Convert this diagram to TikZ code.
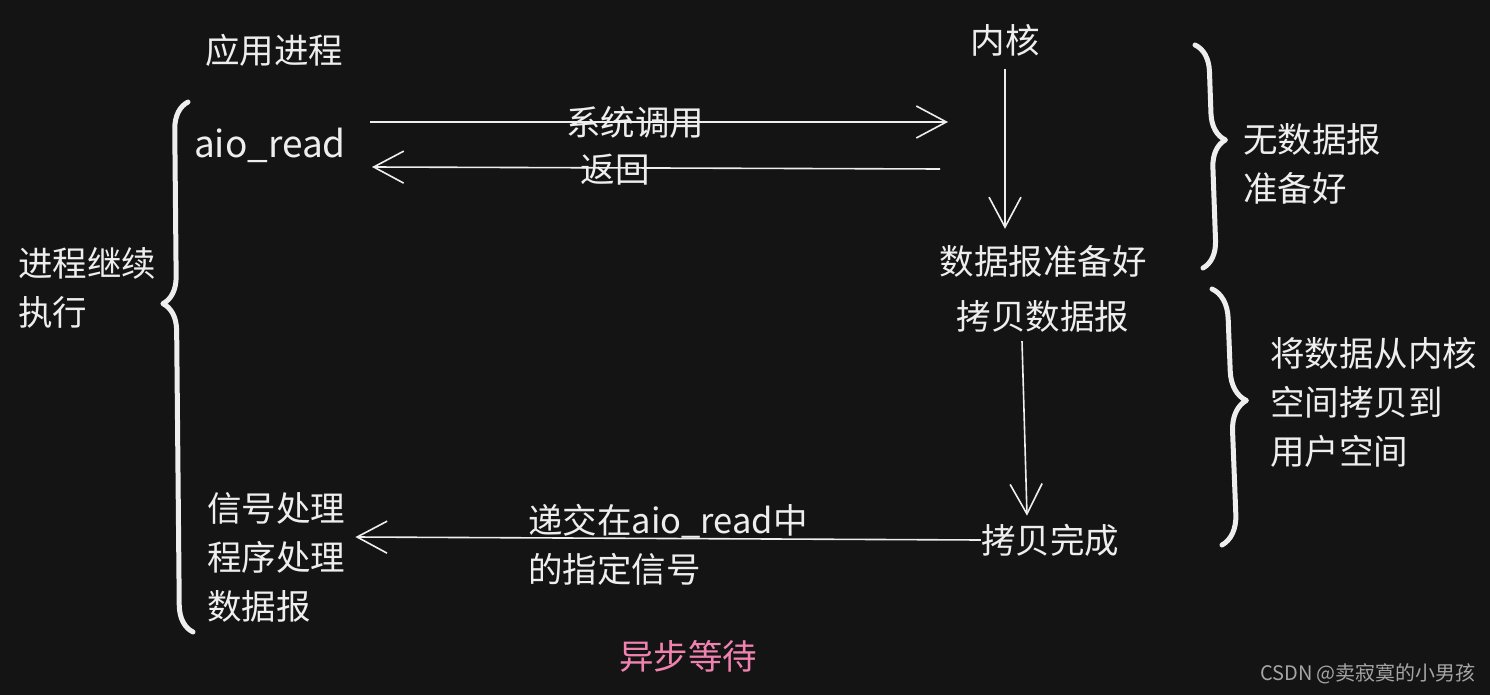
\documentclass[tikz,border=0pt]{standalone}
\usepackage{fontspec}
\setmainfont{Noto Sans CJK SC}
\usepackage{xcolor}
\definecolor{board}{RGB}{20, 20, 20}
\definecolor{chalk}{RGB}{238,238,238}
\definecolor{rose}{RGB}{240,130,176}
\definecolor{faint}{RGB}{165,165,165}
\usetikzlibrary{
  arrows.meta, positioning,
  decorations.pathreplacing
}

\begin{document}
\begin{tikzpicture}[x=1pt, y=-1pt,
    txt/.style={text=chalk, font=\fontsize{34.5}{49}\selectfont, inner sep=0pt, align=left},
    flow/.style={draw=chalk, line width=1.6pt,
      -{Straight Barb[length=30pt, width=32pt, line width=1.6pt]}},
    curly/.style={draw=chalk, line width=5pt, line cap=round, line join=round,
      decorate, decoration={brace, amplitude=#1}}
  ]
    \fill[board] (0,0) rectangle (1490,695);
    \useasboundingbox (0,0) rectangle (1490,695);

    % column titles
    \node[txt] (app) at (274,50) {应用进程};
    \node[txt] (kernel) at (1005,40) {内核};

    % application side
    \node[txt, font=\fontsize{37}{49}\selectfont] (aio) at (270,145) {aio\_read};
    \node[txt, anchor=west] (keepon) at (18,288) {进程继续\\执行};
    \node[txt, anchor=west] (handler) at (207,557) {信号处理\\程序处理\\数据报};

    % kernel side
    \node[txt] (ready) at (1043,261) {数据报准备好};
    \node[txt] (copy) at (1043,316) {拷贝数据报};
    \node[txt] (done) at (1050,540) {拷贝完成};

    % phase notes
    \node[txt, anchor=west] (nodata) at (1243,164) {无数据报\\准备好};
    \node[txt, anchor=west] (copying) at (1270,402) {将数据从内核\\空间拷贝到\\用户空间};

    % arrow ends
    \coordinate (callA) at (370,122);
    \coordinate (callB) at (948,122);
    \coordinate (backA) at (940,169);
    \coordinate (backB) at (372,167);

    \node[txt] (syscall) at (635,122) {系统调用};
    \node[txt] (ret) at (615,170) {返回};
    \draw[flow] (callA) -- (callB);
    \draw[flow] (backA) -- (backB);

    \draw[flow] ([yshift=-13pt]kernel.south) -- ([yshift=16pt]kernel.south |- ready.north);
    \draw[flow] ([xshift=-21pt,yshift=-9pt]copy.south) -- ([xshift=-23pt,yshift=8pt]done.north);

    \node[txt, anchor=west] (signal) at (528,545) {递交在aio\_read中\\的指定信号};
    \draw[flow] (done.west) -- ([xshift=10pt,yshift=20pt]handler.east);

    % braces
    \draw[curly=27pt, decoration={aspect=0.62}] (193,632) -- (188,102);
    \draw[curly=27pt, decoration={aspect=0.43}] (1195,45) -- (1203,268);
    \draw[curly=30pt, decoration={aspect=0.44}] (1212,289) -- (1222,545);

    \node[txt, text=rose] (async) at (688,656) {异步等待};
    \node[text=faint, font=\fontsize{20}{24}\selectfont, inner sep=0pt] (credit) at (1368,674) {CSDN @卖寂寞的小男孩};
  \end{tikzpicture}
\end{document}
